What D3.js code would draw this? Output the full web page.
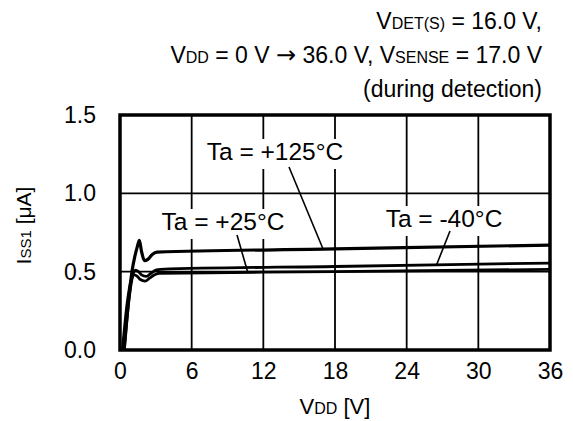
<!DOCTYPE html>
<html>
<head>
<meta charset="utf-8">
<script src="https://cdn.jsdelivr.net/npm/d3@7"></script>
<style>
    body { margin: 0; background: #fff; }
    svg { display: block; font-family: "Liberation Sans", Arial, sans-serif; }
</style>
</head>
<body>
<svg width="573" height="421"></svg>
<script>
/* globals d3 */

// data: [VDD (V), ISS1 (uA)]
const ta125 = [[0.35, 0], [0.7, 0.3], [1.0, 0.5], [1.25, 0.6], [1.45, 0.66], [1.62, 0.70], [1.8, 0.63],
    [2.05, 0.57], [2.35, 0.58], [2.7, 0.61], [3.1, 0.625], [18, 0.645], [36, 0.67]];
const ta25 = [[0.2, 0], [0.6, 0.3], [0.95, 0.45], [1.2, 0.48], [1.45, 0.47], [1.7, 0.45], [2.1, 0.44],
    [2.5, 0.46], [2.9, 0.48], [3.3, 0.49], [18, 0.50], [36, 0.515]];
const taM40 = [[0.35, 0], [0.75, 0.32], [1.05, 0.47], [1.3, 0.51], [1.55, 0.50], [1.8, 0.48], [2.2, 0.47],
    [2.6, 0.49], [3.0, 0.51], [3.4, 0.515], [18, 0.533], [36, 0.555]];

const xTicks = [0, 6, 12, 18, 24, 30, 36];
const yTicks = [0, 0.5, 1.0, 1.5];

const svg = d3.select('svg');
const pLeft = 120;
const pRight = 550;
const pTop = 115;
const pBottom = 350;

const x = d3.scaleLinear().domain([0, 36]).range([pLeft, pRight]);
const y = d3.scaleLinear().domain([0, 1.5]).range([pBottom, pTop]);

// grid
const grid = svg.append('g').attr('stroke', '#000').attr('stroke-width', 1.8);
grid.selectAll('line.v')
.data(xTicks.slice(1, -1))
.enter().append('line')
.attr('x1', d => x(d)).attr('x2', d => x(d))
.attr('y1', pTop).attr('y2', pBottom);
grid.selectAll('line.h')
.data(yTicks.slice(1, -1))
.enter().append('line')
.attr('x1', pLeft).attr('x2', pRight)
.attr('y1', d => y(d)).attr('y2', d => y(d));

// tick labels
const xAxis = svg.append('g')
.attr('transform', `translate(0,${pBottom + 10})`)
.call(d3.axisBottom(x).tickValues(xTicks).tickSize(0).tickFormat(d3.format('d')));
const yAxis = svg.append('g')
.attr('transform', `translate(${pLeft - 21},0)`)
.call(d3.axisLeft(y).tickValues(yTicks).tickSize(0).tickFormat(d3.format('.1f')));
[xAxis, yAxis].forEach(a => {
    a.select('.domain').remove();
    a.selectAll('text').attr('font-size', 23).attr('fill', '#000')
    .attr('font-family', '"Liberation Sans", Arial, sans-serif');
});

// curves
const line = d3.line()
.x(d => x(d[0]))
.y(d => y(d[1]))
.curve(d3.curveMonotoneX);

const series = [
    {name: 'Ta = -40°C', values: taM40, w: 2.8},
    {name: 'Ta = +25°C', values: ta25, w: 2.8},
    {name: 'Ta = +125°C', values: ta125, w: 3.2}
];

svg.append('g')
.selectAll('path')
.data(series)
.enter().append('path')
.attr('fill', 'none')
.attr('stroke', '#000')
.attr('stroke-width', d => d.w)
.attr('stroke-linejoin', 'round')
.attr('d', d => line(d.values));

// labels with white boxes + leader lines
const labels = [
    {text: 'Ta = +125°C', tx: 275, ty: 160, from: [289, 167], to: [17, 0.645]},
    {text: 'Ta = +25°C', tx: 223, ty: 230, from: [237, 235], to: [10.7, 0.495]},
    {text: 'Ta = -40°C', tx: 444, ty: 227, from: [450, 231], to: [26.5, 0.543]}
];

const lab = svg.append('g');
labels.forEach(l => {
    const t = lab.append('text')
    .attr('x', l.tx).attr('y', l.ty)
    .attr('text-anchor', 'middle')
    .attr('font-size', 24.5)
    .text(l.text);
    const bb = t.node().getBBox();
    lab.insert('rect', 'text')
    .attr('x', bb.x - 4).attr('y', bb.y + 1)
    .attr('width', bb.width + 8).attr('height', bb.height + 3)
    .attr('fill', '#fff');
    lab.append('line')
    .attr('x1', l.from[0]).attr('y1', l.from[1])
    .attr('x2', x(l.to[0])).attr('y2', y(l.to[1]))
    .attr('stroke', '#000').attr('stroke-width', 1.6);
});

// frame
svg.append('rect')
.attr('x', pLeft).attr('y', pTop)
.attr('width', pRight - pLeft).attr('height', pBottom - pTop)
.attr('fill', 'none').attr('stroke', '#000').attr('stroke-width', 3.5);

// header
const header = svg.append('g').attr('text-anchor', 'end').attr('font-size', 23);
const h1 = header.append('text').attr('x', 542).attr('y', 29);
h1.append('tspan').text('V');
h1.append('tspan').attr('font-size', 16).text('DET(S)');
h1.append('tspan').text(' = 16.0 V,');

const h2 = header.append('text').attr('x', 542).attr('y', 63);
h2.append('tspan').text('V');
h2.append('tspan').attr('font-size', 16).text('DD');
h2.append('tspan').text(' = 0 V ');
h2.append('tspan').attr('font-family', '"DejaVu Sans", sans-serif').attr('font-size', 24).text('\u2192');
h2.append('tspan').text(' 36.0 V, V');
h2.append('tspan').attr('font-size', 16).text('SENSE');
h2.append('tspan').text(' = 17.0 V');

header.append('text').attr('x', 542).attr('y', 97).text('(during detection)');

// axis titles
const xt = svg.append('text')
.attr('x', x(18)).attr('y', 414)
.attr('text-anchor', 'middle')
.attr('font-size', 22);
xt.append('tspan').text('V');
xt.append('tspan').attr('font-size', 16).text('DD');
xt.append('tspan').text(' [V]');

const yt = svg.append('text')
.attr('transform', `translate(31,${(pTop + pBottom) / 2 - 7}) rotate(-90)`)
.attr('text-anchor', 'middle')
.attr('font-size', 21);
yt.append('tspan').text('I');
yt.append('tspan').attr('font-size', 15).text('SS1');
yt.append('tspan').text(' [\u03bcA]');
</script>
</body>
</html>
